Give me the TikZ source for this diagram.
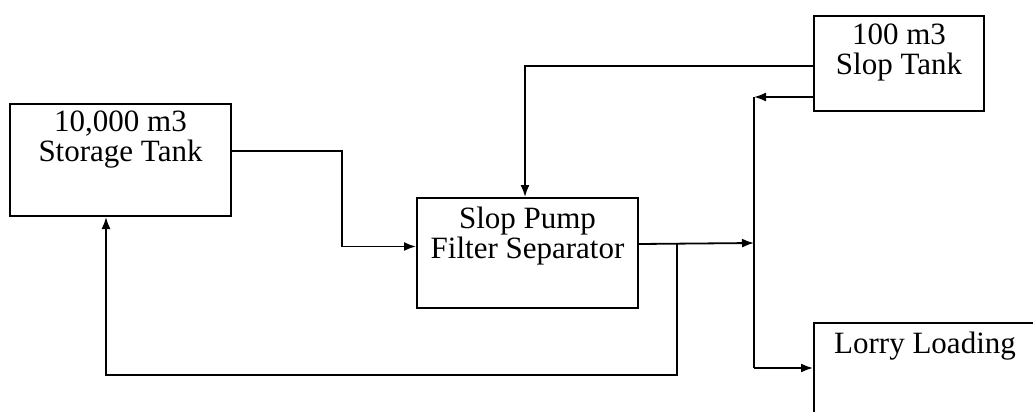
\documentclass[tikz,border=0pt]{standalone}
\usepackage{fontspec}
\setmainfont{Liberation Serif}
\usetikzlibrary{arrows.meta}
\begin{document}
\begin{tikzpicture}[x=1pt,y=-1pt,
  box/.style={draw, line width=2pt, rectangle, inner sep=0pt, anchor=north west},
  txt/.style={inner sep=0pt, align=center, font=\fontsize{31}{30}\selectfont, anchor=north},
  arr/.style={line width=1.8pt, -{Latex[length=12pt,width=9pt]}}]
\useasboundingbox (0,0) rectangle (1033,412);
\clip (0,0) rectangle (1033,412);
% boxes
\node[box, minimum width=221pt, minimum height=112pt] (st) at (9,103) {};
\node[txt] (stt) at ([yshift=-8pt]st.north) {10,000 m3\\Storage Tank};
\node[box, minimum width=221pt, minimum height=110pt] (pu) at (416,197) {};
\node[txt] (put) at ([yshift=-10pt]pu.north) {Slop Pump\\Filter Separator};
\node[box, minimum width=170pt, minimum height=95pt] (sl) at (813,15) {};
\node[txt] (slt) at ([yshift=-9pt]sl.north) {100 m3\\Slop Tank};
\node[box, minimum width=260pt, minimum height=120pt] (lo) at (813,322) {};
\node[txt, anchor=north west] (lot) at ([xshift=21pt,yshift=-10pt]lo.north west) {Lorry Loading};
% junctions
\coordinate (jt) at (754,97);
\coordinate (jm) at (754,243);
\coordinate (jb) at (754,368);
\coordinate (tap) at (677,243);
% connectors
\draw[arr] ([yshift=9pt]st.east) -- ++(110,0) |- ([yshift=6.5pt]pu.west);
\draw[arr] ([yshift=-2.5pt]sl.west) -| ([xshift=-2.5pt]pu.north);
\draw[arr] (sl.west |- jt) -- (jt);
\draw[line width=2.4pt] (jt) -- (jb);
\draw[arr] ([yshift=9pt]pu.east) -- (jm);
\draw[arr] (tap) -- (677,375) -| ([xshift=-14.5pt]st.south);
\draw[arr] (jb) -- (lo.west |- jb);
\end{tikzpicture}
\end{document}
